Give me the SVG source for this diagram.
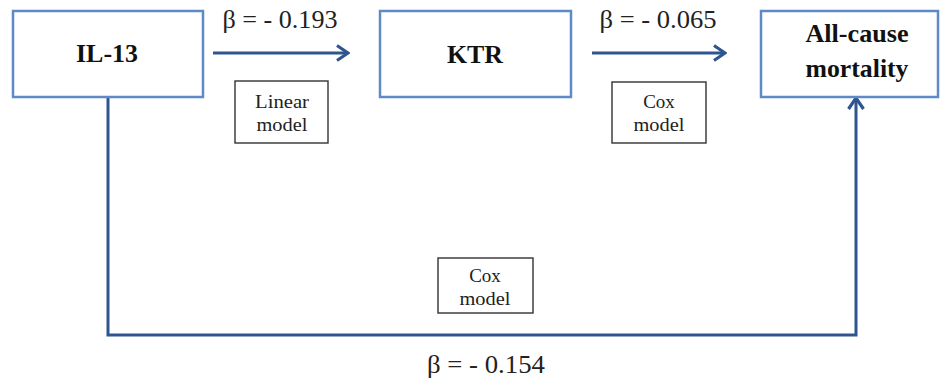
<svg xmlns="http://www.w3.org/2000/svg" width="940" height="379" viewBox="0 0 940 379">
<defs>
<marker id="chev" viewBox="0 0 16 18" refX="14" refY="9" markerWidth="16" markerHeight="18" markerUnits="userSpaceOnUse" orient="auto">
<path d="M3,1.5 L14,9 L3,16.5" fill="none" stroke="#2e5590" stroke-width="3.2"/>
</marker>
<style>
.node{fill:#fff;stroke:#5f8ac6;stroke-width:2.5}
.lab{fill:#fff;stroke:#333;stroke-width:1.4}
.nt{font-family:"Liberation Serif",serif;font-weight:bold;fill:#111;text-anchor:middle}
.bt{font-family:"Liberation Serif",serif;font-size:25px;fill:#222;text-anchor:middle}
.mt{font-family:"Liberation Serif",serif;font-size:19px;fill:#222;text-anchor:middle}
.con{fill:none;stroke:#2e5590;stroke-width:3}
</style>
</defs>
<rect width="940" height="379" fill="#fff"/>
<g id="connectors">
<line class="con" x1="213" y1="53" x2="348" y2="53" marker-end="url(#chev)"/>
<line class="con" x1="592" y1="53" x2="725" y2="53" marker-end="url(#chev)"/>
<path class="con" d="M108,97 V335 H856 V98" marker-end="url(#chev)"/>
</g>
<g id="il13">
<rect class="node" x="13" y="11" width="190" height="86"/>
<text class="nt" x="107" y="62" font-size="25" textLength="62" lengthAdjust="spacingAndGlyphs">IL-13</text>
</g>
<g id="ktr">
<rect class="node" x="380" y="11" width="191" height="86"/>
<text class="nt" x="475" y="63" font-size="25" textLength="56" lengthAdjust="spacingAndGlyphs">KTR</text>
</g>
<g id="mortality">
<rect class="node" x="761" y="11" width="177" height="86"/>
<text class="nt" x="857" y="42" font-size="25" textLength="103" lengthAdjust="spacingAndGlyphs">All-cause</text>
<text class="nt" x="857" y="77" font-size="25" textLength="103" lengthAdjust="spacingAndGlyphs">mortality</text>
</g>
<g id="labels">
<text class="bt" x="280" y="28" textLength="115" lengthAdjust="spacingAndGlyphs">β = - 0.193</text>
<text class="bt" x="658" y="28" textLength="117" lengthAdjust="spacingAndGlyphs">β = - 0.065</text>
<text class="bt" x="486" y="373" textLength="118" lengthAdjust="spacingAndGlyphs">β = - 0.154</text>
<rect class="lab" x="235" y="81" width="93" height="62"/>
<text class="mt" x="282" y="108" textLength="54" lengthAdjust="spacingAndGlyphs">Linear</text>
<text class="mt" x="282" y="131" textLength="51" lengthAdjust="spacingAndGlyphs">model</text>
<rect class="lab" x="612" y="82" width="94" height="61"/>
<text class="mt" x="659" y="108">Cox</text>
<text class="mt" x="659" y="131" textLength="51" lengthAdjust="spacingAndGlyphs">model</text>
<rect class="lab" x="438" y="258" width="95" height="55"/>
<text class="mt" x="485" y="282">Cox</text>
<text class="mt" x="485" y="305" textLength="51" lengthAdjust="spacingAndGlyphs">model</text>
</g>
</svg>
